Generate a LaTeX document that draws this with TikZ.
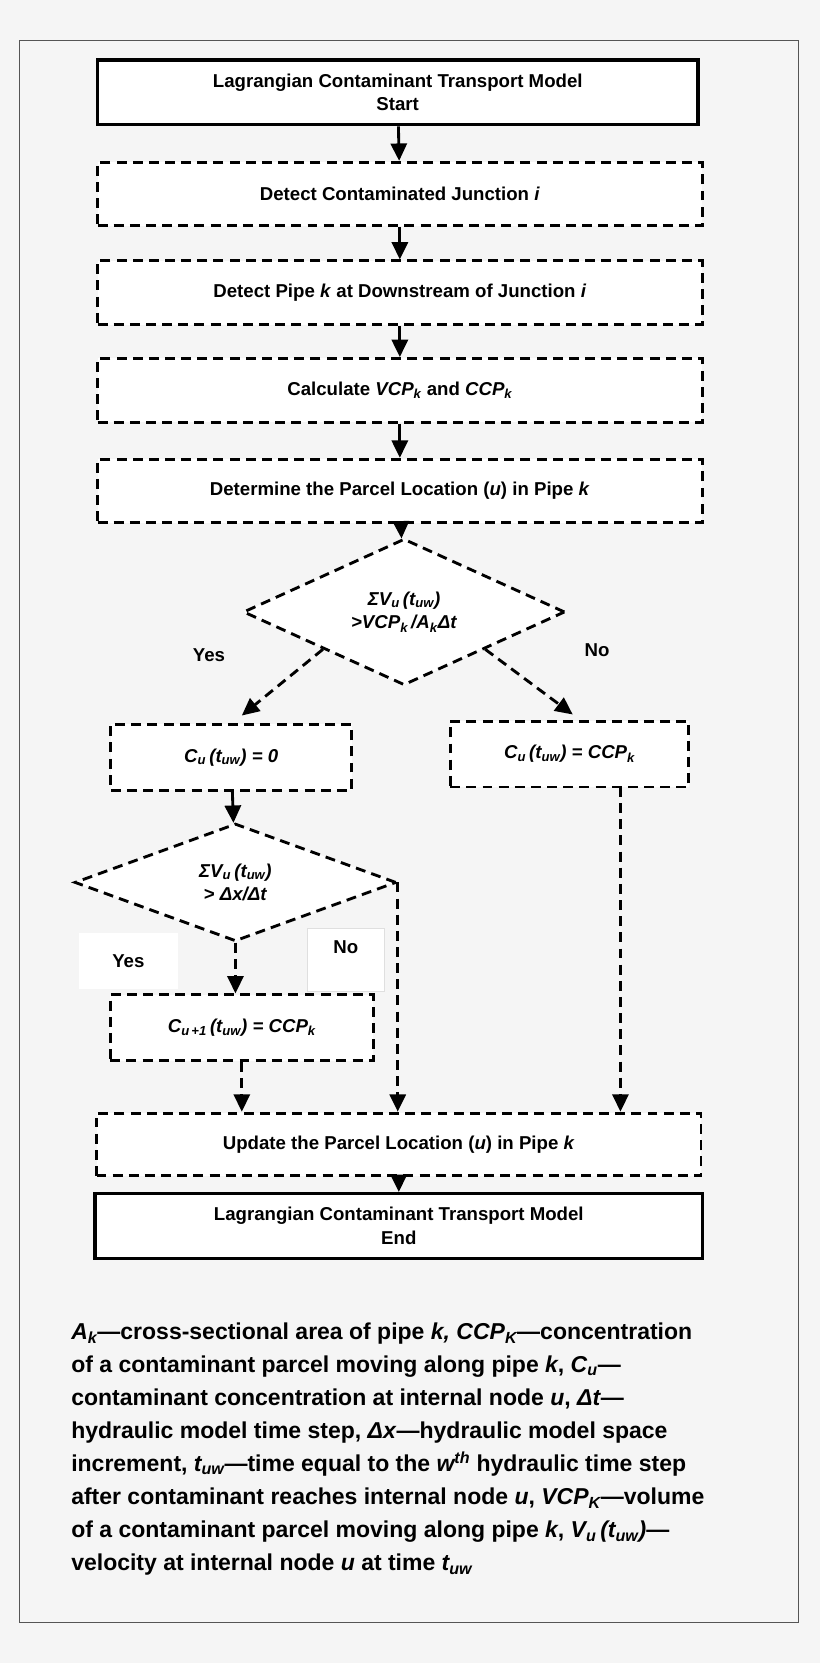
\documentclass[tikz,border=0pt]{standalone}
\usepackage{fontspec}
\setmainfont{Liberation Sans}
\usetikzlibrary{arrows.meta,shapes.geometric}
\definecolor{pageColor}{RGB}{245,245,245}
\definecolor{frameColor}{RGB}{ 85, 85, 85}
\newcommand*\lsub[1]{\textsubscript{\textit{#1}}}
\tikzset{
  flow arrow/.style={-{Triangle[length=14pt,width=13pt]}, line width=2.3pt},
  dash line/.style ={dash pattern=on 8pt off 5pt}}

\begin{document}
\begin{tikzpicture}[x=0.03cm, y=-0.03cm,
  font=\fontsize{15}{19}\selectfont\bfseries,
  model box/.style ={draw, line width=2.8pt, fill=white, minimum width=16.98cm, minimum height=1.83cm, align=center},
  step box/.style  ={draw, line width=2.3pt, dash line, fill=white, minimum width=17.1cm, minimum height=1.8cm, align=center},
  small box/.style ={draw, line width=2.3pt, dash line, fill=white, minimum height=1.86cm, align=center},
  test/.style      ={draw, line width=2.3pt, dash line, fill=white, diamond, inner sep=0pt,
                     minimum width=9.1cm, minimum height=3.33cm, align=center},
  branch label/.style={fill=white, inner sep=0pt},
]
%% page and frame
\fill[pageColor] (0,0) rectangle (773,1568);
\useasboundingbox (0,0) rectangle (773,1568);
\draw[frameColor, line width=0.8pt] (18,38) rectangle (753,1530);

%% boxes
\node[model box] (start) at (375,87)  {Lagrangian Contaminant Transport Model\\Start};
\node[step box]  (junc)  at (377,183) {Detect Contaminated Junction \textit{i}};
\node[step box]  (pipe)  at (377,276) {Detect Pipe \textit{k} at Downstream of Junction \textit{i}};
\node[step box]  (calc)  at (377,368) {Calculate \textit{VCP\lsub{k}} and \textit{CCP\lsub{k}}};
\node[step box]  (loc)   at (377,463) {Determine the Parcel Location (\textit{u}) in Pipe \textit{k}};
\node[test]      (dA)    at (381,577) {\textit{ΣV\lsub{u}\,(t\lsub{uw})}\\\textit{>VCP\lsub{k}\,/A\lsub{k}Δt}};
\node[small box, minimum width=6.81cm] (zero) at (218,714) {\textit{C\lsub{u}\,(t\lsub{uw}) = 0}};
\node[small box, minimum width=6.75cm] (ccp)  at (537,711) {\textit{C\lsub{u}\,(t\lsub{uw}) = CCP\lsub{k}}};
\node[test]      (dB)    at (222,832) {\textit{ΣV\lsub{u}\,(t\lsub{uw})}\\\textit{> Δx/Δt}};
\node[small box, minimum width=7.44cm] (next) at (228,969) {\textit{C\lsub{u\,+1}\,(t\lsub{uw}) = CCP\lsub{k}}};
\node[step box, minimum height=1.77cm] (upd) at (376,1079) {Update the Parcel Location (\textit{u}) in Pipe \textit{k}};
\node[model box, minimum width=17.19cm] (end) at (376,1156) {Lagrangian Contaminant Transport Model\\End};

%% branch labels
\node (yesA) at (197,618) {Yes};
\node (noA)  at (563,613) {No};
\node[branch label, minimum width=2.79cm, minimum height=1.59cm] (yesB) at (121,906) {Yes};
\node[branch label, draw=gray!25, line width=0.6pt, minimum width=2.19cm, minimum height=1.8cm,
      text depth=0.7cm] (noB) at (326,905) {No};

%% connectors
\foreach \from/\to in {start/junc, junc/pipe, pipe/calc, calc/loc, loc/dA, zero/dB}
  \draw[flow arrow] (\from) -- (\to);
\draw[flow arrow, dash line] (dA.south west) -- ([shift={(10,-7)}]zero.north);
\draw[flow arrow, dash line] (dA.south east) -- ([shift={(3,-5)}]ccp.north);
\draw[flow arrow, dash line] (dB.south) -- (dB.south |- next.north);
\draw[flow arrow, dash line] (dB.east) -- (dB.east |- upd.north);
\draw[flow arrow, dash line] (next.south) -- (next.south |- upd.north);
\coordinate (ccpOut) at (585,742);
\draw[flow arrow, dash line] (ccpOut) -- (ccpOut |- upd.north);
\draw[flow arrow, dash line] (upd) -- (end);

%% legend
\node[anchor=north west, align=left, inner sep=0pt,
      font=\fontsize{18.5}{26.6}\selectfont\bfseries] (legend) at (67,1247)
  {\textit{A\lsub{k}}—cross-sectional area of pipe \textit{k, CCP\lsub{K}}—concentration\\
   of a contaminant parcel moving along pipe \textit{k}, \textit{C\lsub{u}}—\\
   contaminant concentration at internal node \textit{u}, \textit{Δt}—\\
   hydraulic model time step, \textit{Δx}—hydraulic model space\\
   increment, \textit{t\lsub{uw}}—time equal to the \textit{w\textsuperscript{th}} hydraulic time step\\
   after contaminant reaches internal node \textit{u}, \textit{VCP\lsub{K}}—volume\\
   of a contaminant parcel moving along pipe \textit{k}, \textit{V\lsub{u}\,(t\lsub{uw})}—\\
   velocity at internal node \textit{u} at time \textit{t\lsub{uw}}};
\end{tikzpicture}
\end{document}
